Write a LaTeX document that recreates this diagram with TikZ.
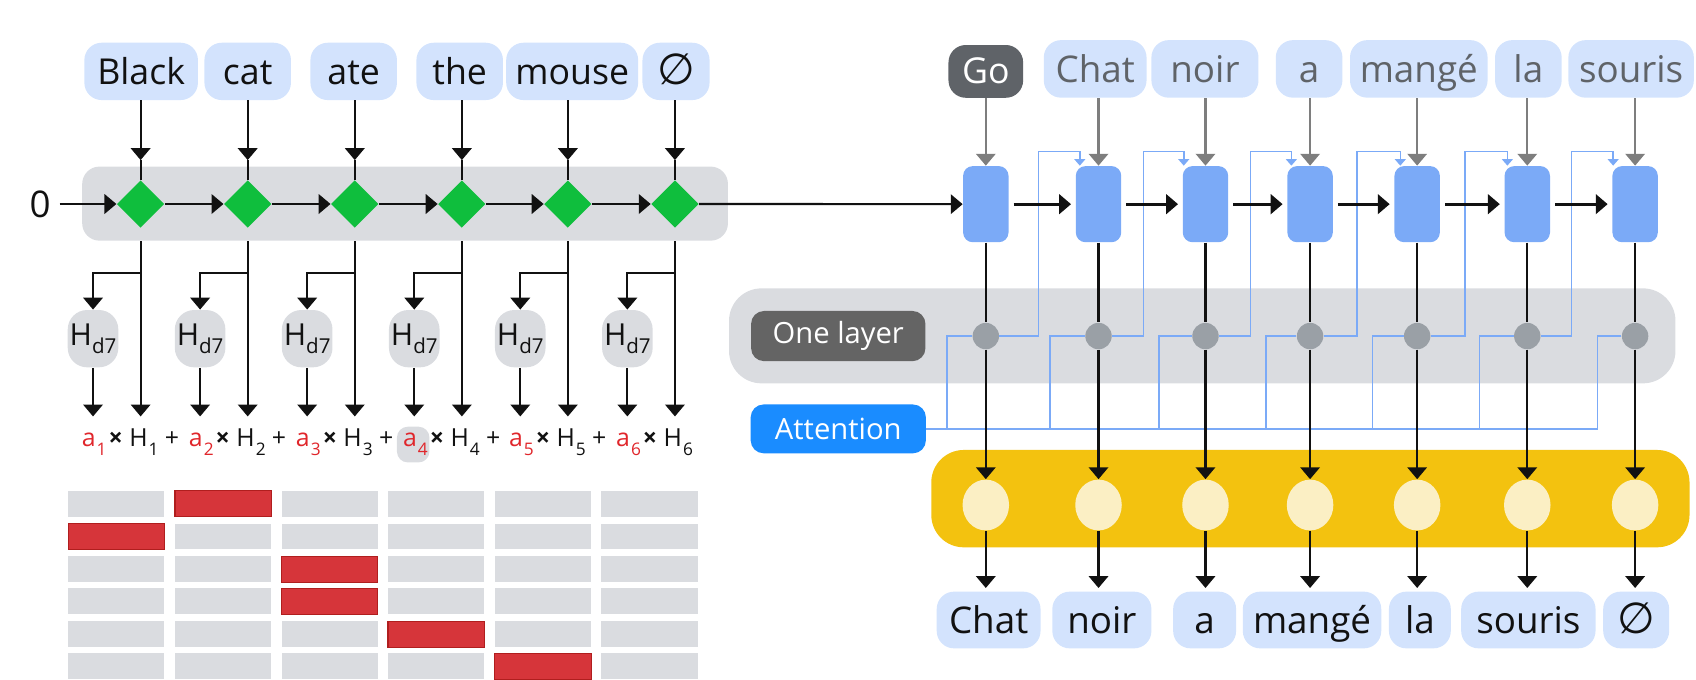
\documentclass[tikz,border=0pt]{standalone}
\usepackage{fontspec}
\setmainfont{Open Sans}
\newfontfamily\djv{DejaVu Sans}
\usetikzlibrary{arrows.meta,shapes.geometric}
\definecolor{wordbg}{HTML}{D3E3FD}
\definecolor{bandgray}{HTML}{DADCE0}
\definecolor{encgreen}{HTML}{0FBE3D}
\definecolor{cellblue}{HTML}{7BAAF7}
\definecolor{dotgray}{HTML}{9AA0A6}
\definecolor{darkbox}{HTML}{5F6368}
\definecolor{layerbox}{HTML}{646464}
\definecolor{attn}{HTML}{1A8CFF}
\definecolor{yel}{HTML}{F3C20F}
\definecolor{ltyel}{HTML}{FBEFC4}
\definecolor{hred}{HTML}{D6353A}
\definecolor{hredd}{HTML}{B01E1E}
\definecolor{fred}{HTML}{E0262B}
\definecolor{txtgray}{HTML}{5F6368}
\definecolor{arrgray}{HTML}{7E7E7E}
\definecolor{ink}{HTML}{111111}
\tikzset{
  wbox/.style={fill=wordbg, rounded corners=8pt, inner sep=0pt, minimum height=26.5pt, text height=12.6pt, text depth=0.8pt, text=ink, font=\fontsize{16.5}{18}\selectfont},
  fbox/.style={fill=wordbg, rounded corners=8pt, inner sep=0pt, minimum height=26.6pt, text height=13pt, text depth=0.8pt, text=txtgray, font=\fontsize{17}{19}\selectfont},
  obox/.style={fill=wordbg, rounded corners=8pt, inner sep=0pt, minimum height=26.2pt, text height=13pt, text depth=0.8pt, text=ink, font=\fontsize{17}{19}\selectfont},
  encnode/.style={diamond, fill=encgreen, minimum size=22pt, inner sep=0pt},
  cell/.style={fill=cellblue, rounded corners=4.5pt, minimum width=21pt, minimum height=35.2pt, inner sep=0pt},
  dotnode/.style={circle, fill=dotgray, minimum size=12.2pt, inner sep=0pt},
  yellnode/.style={ellipse, fill=ltyel, minimum width=21.5pt, minimum height=23.5pt, inner sep=0pt},
  hbox/.style={fill=bandgray, rounded corners=9pt, minimum width=23.4pt, minimum height=26.5pt, inner sep=0pt, text=ink, font=\fontsize{14}{16}\selectfont},
  ftext/.style={anchor=base, inner sep=0pt, text=ink, font=\fontsize{11.5}{13}\selectfont},
  arr/.style={draw=ink, line width=1pt, -{Triangle[length=5.5pt,width=9pt]}},
  garr/.style={draw=arrgray, line width=1pt, -{Triangle[length=5.5pt,width=9pt]}},
  barr/.style={draw=cellblue, line width=0.7pt, -{Triangle[length=3pt,width=5pt]}},
  bline/.style={draw=cellblue, line width=0.7pt},
  plainline/.style={draw=ink, line width=1pt},
}
\newcommand\sbk[1]{\rlap{\kern0.5pt\raisebox{-4pt}{\fontsize{8}{9}\selectfont #1}}}
\newcommand\nullsym{{\djv\fontsize{20}{20}\selectfont ∅}}
\begin{document}
\begin{tikzpicture}[x=0.5pt,y=-0.5pt]
\useasboundingbox (0,0) rectangle (1568,628);

% ---------- bands ----------
\node[fill=bandgray, rounded corners=8pt, minimum width=298.5pt, minimum height=34.25pt, inner sep=0pt] (encband) at (374.5,188.25) {};
\node[fill=bandgray, rounded corners=15pt, minimum width=437.5pt, minimum height=43.9pt, inner sep=0pt] (layerband) at (1111.5,310.5) {};
\node[fill=yel, rounded corners=15pt, minimum width=350.5pt, minimum height=45pt, inner sep=0pt] (yelband) at (1211.5,461) {};

% ---------- heatmap ----------
\foreach \yy in {453.7,484,514.1,544,574.2}
  \foreach \xx in {63,161.8,260.3,358.7,457.5,556}
    \fill[bandgray] (\xx,\yy) rectangle ++(89,24);
\foreach \xx in {63,161.8,260.3,358.7,457.5,556}
  \fill[bandgray] (\xx,603.8) rectangle (\xx+89,628);
\filldraw[fill=hred, draw=hredd, line width=0.5pt] (161.8,453.7) rectangle ++(89,24);
\filldraw[fill=hred, draw=hredd, line width=0.5pt] (63,484) rectangle ++(89,24);
\filldraw[fill=hred, draw=hredd, line width=0.5pt] (260.3,514.1) rectangle ++(89,24);
\filldraw[fill=hred, draw=hredd, line width=0.5pt] (260.3,544) rectangle ++(89,24);
\filldraw[fill=hred, draw=hredd, line width=0.5pt] (358.7,574.2) rectangle ++(89,24);
\filldraw[fill=hred, draw=hredd, line width=0.5pt] (457.5,603.8) rectangle (546.5,628);

% ---------- encoder words ----------
\node[wbox, minimum width=52.5pt] (w1) at (130.5,66) {Black};
\node[wbox, minimum width=40pt] (w2) at (229,66) {cat};
\node[wbox, minimum width=40pt] (w3) at (327,66) {ate};
\node[wbox, minimum width=40pt] (w4) at (425,66) {the};
\node[wbox, minimum width=61pt] (w5) at (529,66) {mouse};
\node[wbox, minimum width=31pt] (w6) at (625,66) {\nullsym};

\node[inner sep=0pt, text=ink, font=\fontsize{17}{19}\selectfont] (zero) at (37,188.6) {0};

% ---------- encoder columns ----------
\node[fill=bandgray, rounded corners=5pt, minimum width=15pt, minimum height=16.5pt, inner sep=0pt] (a4bg) at (382,411) {};
\foreach \k/\cx in {1/130,2/229,3/328,4/427,5/525,6/624} {
  \node[encnode] (d\k) at (\cx,188.6) {};
  \coordinate (t\k) at (\cx,148);
  \coordinate (j\k) at (\cx,252);
  \coordinate (e\k) at (\cx,385);
  \node[hbox] (h\k) at (\cx-44,313.1) {H\raisebox{-3.5pt}{\fontsize{9.5}{10}\selectfont d7}};
  \coordinate (g\k) at (\cx-44,385);
  \draw[arr] (w\k.south -| d\k) -- (t\k);
  \draw[plainline] (t\k) -- (d\k.north);
  \draw[arr] (encband.south -| d\k) -- (e\k);
  \draw[arr] (j\k) -| (h\k.north);
  \draw[arr] (h\k.south) -- (g\k);
  \node[ftext, text=fred] (fa\k) at (\cx-48,413) {a\sbk{\k}};
  \node[ftext] (fx\k) at (\cx-23,413) {\textbf{×}};
  \node[ftext] (fh\k) at (\cx-2,413) {H\sbk{\k}};
}
\foreach \k/\cx in {1/130,2/229,3/328,4/427,5/525}
  \node[ftext] (fp\k) at (\cx+29,413) {+};

\draw[arr, shorten <=4pt] (zero.east) -- (d1.west);
\draw[arr] (d1.east) -- (d2.west);
\draw[arr] (d2.east) -- (d3.west);
\draw[arr] (d3.east) -- (d4.west);
\draw[arr] (d4.east) -- (d5.west);
\draw[arr] (d5.east) -- (d6.west);

% ---------- decoder top words ----------
\node[fill=darkbox, rounded corners=8pt, inner sep=0pt, minimum width=34.5pt, minimum height=24.4pt, text height=12.4pt, text depth=0.8pt, text=white, font=\fontsize{16.5}{18}\selectfont] (F0) at (911.4,66) {Go};
\node[fbox, minimum width=47.5pt] (F1) at (1012.5,63.7) {Chat};
\node[fbox, minimum width=49.5pt] (F2) at (1114,63.7) {noir};
\node[fbox, minimum width=30.8pt] (F3) at (1210.3,63.7) {a};
\node[fbox, minimum width=63.6pt] (F4) at (1311.7,63.7) {mangé};
\node[fbox, minimum width=30.8pt] (F5) at (1413,63.7) {la};
\node[fbox, minimum width=58pt] (F6) at (1508,63.7) {souris};

% ---------- layer labels ----------
\node[fill=layerbox, rounded corners=6pt, inner sep=0pt, minimum width=80.6pt, minimum height=23.2pt, text=white, font=\fontsize{13.5}{15}\selectfont] (onelayer) at (775,310.7) {One layer};
\node[fill=attn, rounded corners=6pt, inner sep=0pt, minimum width=81pt, minimum height=22.6pt, text=white, font=\fontsize{13.5}{15}\selectfont] (attn) at (775,396.5) {Attention};

% ---------- bottom words ----------
\node[obox, minimum width=48pt] (o0) at (914,573.2) {Chat};
\node[obox, minimum width=45.8pt] (o1) at (1018.7,573.2) {noir};
\node[obox, minimum width=29.1pt] (o2) at (1113.7,573.2) {a};
\node[obox, minimum width=64pt] (o3) at (1213,573.2) {mangé};
\node[obox, minimum width=28.6pt] (o4) at (1312.7,573.2) {la};
\node[obox, minimum width=62.1pt] (o5) at (1413,573.2) {souris};
\node[obox, minimum width=30.5pt] (o6) at (1512.7,573.2) {\nullsym};

% ---------- decoder columns ----------
\foreach \k/\cx in {0/911.4,1/1015.6,2/1114.5,3/1211.2,4/1310.2,5/1412,6/1511.7} {
  \node[cell] (c\k) at (\cx,188.75) {};
  \node[dotnode] (p\k) at (\cx,310.7) {};
  \node[yellnode] (y\k) at (\cx,466.9) {};
}

% blue attention wiring
\foreach \k/\n/\R/\A in {0/1/960.3/998.3, 1/2/1057/1094.4, 2/3/1156/1193.9, 3/4/1254.4/1294.6, 4/5/1354.5/1393.6, 5/6/1453/1491.4} {
  \coordinate (ru\k) at (\R,140.2);
  \coordinate (fb\n) at (\A,140.2);
  \draw[barr] (p\k.east) -| (ru\k) -- (fb\n) -- (fb\n |- c\n.north);
}
\foreach \k/\L in {0/875.7,1/970.7,2/1071.4,3/1170.4,4/1268.8,5/1367.8,6/1477} {
  \coordinate (lb\k) at (\L,396.5);
  \draw[bline] (p\k.west) -| (lb\k);
}
\draw[bline] (attn.east) -- (lb6);

% black / gray decoder arrows
\draw[arr] (d6.east) -- (c0.west);
\foreach \k in {0,...,6} {
  \draw[garr] (F\k.south -| c\k) -- (c\k.north);
  \draw[plainline] (c\k.south) -- (p\k.north);
  \draw[arr] (p\k.south) -- (y\k.north);
  \draw[arr, shorten >=1.5pt] (y\k.south) -- (y\k.south |- o\k.north);
}
\foreach \k/\n in {0/1,1/2,2/3,3/4,4/5,5/6}
  \draw[arr, line width=1.4pt, shorten <=2.2pt, shorten >=2pt] (c\k.east) -- (c\n.west);
\end{tikzpicture}
\end{document}
